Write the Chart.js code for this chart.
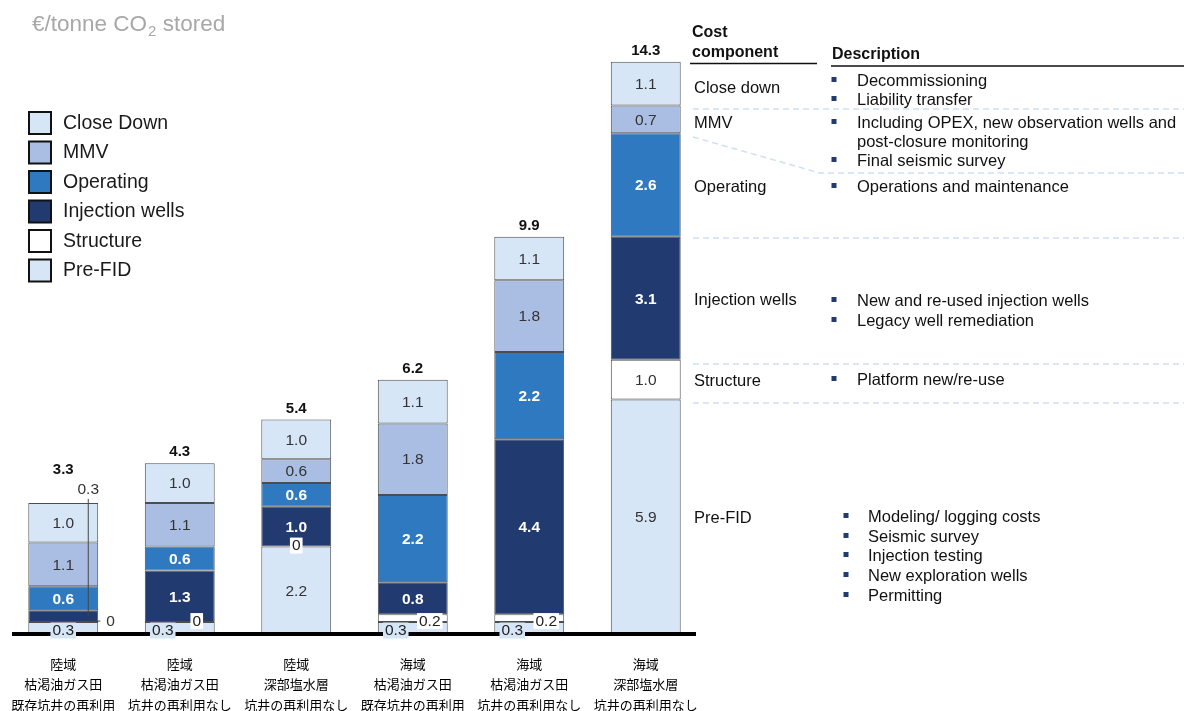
<!DOCTYPE html>
<html>
<head>
<meta charset="utf-8">
<script src="https://cdn.jsdelivr.net/npm/chart.js@4.4.1/dist/chart.umd.min.js"></script>
<style>
  html, body { margin: 0; padding: 0; background: #fff; }
  #wrap { position: relative; width: 1184px; height: 711px; }
</style>
</head>
<body>
<div id="wrap"><canvas id="c" width="1184" height="711"></canvas></div>
<script>
// Storage scenarios (region / reservoir / well re-use)
const categories = [
  ['陸域', '枯渇油ガス田', '既存坑井の再利用'],
  ['陸域', '枯渇油ガス田', '坑井の再利用なし'],
  ['陸域', '深部塩水層', '坑井の再利用なし'],
  ['海域', '枯渇油ガス田', '既存坑井の再利用'],
  ['海域', '枯渇油ガス田', '坑井の再利用なし'],
  ['海域', '深部塩水層', '坑井の再利用なし']
];

// Cost components, €/tonne CO2 stored
const preFID         = [0.3, 0.3, 2.2, 0.3, 0.3, 5.9];
const structure      = [0,   0,   0,   0.2, 0.2, 1.0];
const injectionWells = [0.3, 1.3, 1.0, 0.8, 4.4, 3.1];
const operating      = [0.6, 0.6, 0.6, 2.2, 2.2, 2.6];
const mmv            = [1.1, 1.1, 0.6, 1.8, 1.8, 0.7];
const closeDown      = [1.0, 1.0, 1.0, 1.1, 1.1, 1.1];

// Stated totals per scenario
const totals = [3.3, 4.3, 5.4, 6.2, 9.9, 14.3];

const seriesNames  = ['Pre-FID', 'Structure', 'Injection wells', 'Operating', 'MMV', 'Close Down'];
const seriesColors = ['#d6e6f7', '#ffffff', '#213b70', '#2e79c0', '#aabde3', '#d6e6f7'];
const whiteLabel   = [false, false, true, true, false, false];

// Cost component descriptions
const componentNames = ['Close down', 'MMV', 'Operating', 'Injection wells', 'Structure', 'Pre-FID'];
const componentDescriptions = [
  [['Decommissioning'], ['Liability transfer']],
  [['Including OPEX, new observation wells and', 'post-closure monitoring'], ['Final seismic survey']],
  [['Operations and maintenance']],
  [['New and re-used injection wells'], ['Legacy well remediation']],
  [['Platform new/re-use']],
  [['Modeling/ logging costs'], ['Seismic survey'], ['Injection testing'], ['New exploration wells'], ['Permitting']]
];

const SANS = "'Liberation Sans', Arial, Helvetica, sans-serif";
const CJK = "'Noto Sans CJK JP', 'Noto Sans CJK SC', sans-serif";

const fmt = v => (v === 0 ? '0' : v.toFixed(1));

function text(ctx, s, x, y, font, color, align = 'center') {
  ctx.font = font;
  ctx.fillStyle = color;
  ctx.textAlign = align;
  ctx.textBaseline = 'middle';
  ctx.fillText(s, x, y);
}

function boxedLabel(ctx, s, cx, cy, fill) {
  ctx.font = `15.5px ${SANS}`;
  const w = ctx.measureText(s).width + 4;
  ctx.fillStyle = fill;
  ctx.fillRect(cx - w / 2, cy - 8, w, 16);
  text(ctx, s, cx, cy + 0.5, `15.5px ${SANS}`, '#222');
}

function hline(ctx, x1, x2, y) {
  ctx.beginPath(); ctx.moveTo(x1, y); ctx.lineTo(x2, y); ctx.stroke();
}

// Segment values, small-slice callouts, totals and baseline
const barLabels = {
  id: 'barLabels',
  afterDatasetsDraw(chart) {
    const ctx = chart.ctx;
    const area = chart.chartArea;
    const metas = chart.data.datasets.map((d, i) => chart.getDatasetMeta(i));
    const zeroY = chart.scales.y.getPixelForValue(0);

    ctx.save();
    // heavy baseline
    ctx.strokeStyle = '#000';
    ctx.lineWidth = 4;
    hline(ctx, area.left + 7, area.right - 8, zeroY);

    // labels for segments large enough to hold them
    metas.forEach((meta, di) => {
      const data = chart.data.datasets[di].data;
      meta.data.forEach((el, j) => {
        const v = data[j];
        if (v < 0.5) return;
        const cy = (el.y + el.base) / 2;
        if (whiteLabel[di]) text(ctx, fmt(v), el.x, cy + 1, `bold 15.5px ${SANS}`, '#fff');
        else text(ctx, fmt(v), el.x, cy + 1, `15.5px ${SANS}`, '#333');
      });
    });

    const topOf = j => metas[metas.length - 1].data[j].y;

    categories.forEach((c, j) => {
      const pre = metas[0].data[j];
      const str = metas[1].data[j];
      const inj = metas[2].data[j];
      const injOutside = injectionWells[j] < 0.5;

      // thin injection-well slice: label above the bar with a leader line
      if (injOutside) {
        const lx = inj.x + 25;
        const ly = topOf(j) - 13;
        ctx.strokeStyle = '#444';
        ctx.lineWidth = 1;
        ctx.beginPath();
        ctx.moveTo(lx, ly + 9);
        ctx.lineTo(lx, (inj.y + inj.base) / 2);
        ctx.stroke();
        text(ctx, fmt(injectionWells[j]), lx, ly, `15.5px ${SANS}`, '#333');
      }

      // thin structure slice
      if (structure[j] < 0.5) {
        const sy = str.base - 1;
        if (injOutside) {
          ctx.strokeStyle = '#444';
          ctx.lineWidth = 1;
          hline(ctx, str.x + 26, str.x + 37, sy);
          text(ctx, fmt(structure[j]), str.x + 43, sy + 0.5, `15.5px ${SANS}`, '#333', 'left');
        } else {
          const sx = preFID[j] < 0.5 ? str.x + 17 : str.x;
          boxedLabel(ctx, fmt(structure[j]), sx, sy, '#ffffff');
        }
      }

      // thin pre-FID slice: boxed label on the baseline
      if (preFID[j] < 0.5) {
        const px = injOutside ? pre.x : pre.x - 17;
        boxedLabel(ctx, fmt(preFID[j]), px, pre.base - 3.5, seriesColors[0]);
      }

      // totals
      const ty = topOf(j) - (injOutside ? 33 : 11);
      text(ctx, fmt(totals[j]), pre.x, ty, `bold 15px ${SANS}`, '#111');
    });
    ctx.restore();
  }
};

// Unit title, legend and component table
const sidePanels = {
  id: 'sidePanels',
  afterDraw(chart) {
    const ctx = chart.ctx;
    ctx.save();

    // unit title with subscript
    ctx.textBaseline = 'alphabetic';
    ctx.textAlign = 'left';
    ctx.fillStyle = '#a8a8a8';
    ctx.font = `22.5px ${SANS}`;
    let x = 32;
    ctx.fillText('€/tonne CO', x, 31);
    x += ctx.measureText('€/tonne CO').width + 1;
    ctx.font = `15px ${SANS}`;
    ctx.fillText('2', x, 36);
    x += ctx.measureText('2').width;
    ctx.font = `22.5px ${SANS}`;
    ctx.fillText(' stored', x, 31);

    // legend, top component first
    const n = seriesNames.length;
    for (let k = 0; k < n; k++) {
      const di = n - 1 - k;
      const by = 112 + k * 29.5;
      ctx.fillStyle = seriesColors[di];
      ctx.fillRect(29, by, 22, 22);
      ctx.strokeStyle = '#111';
      ctx.lineWidth = 2;
      ctx.strokeRect(29, by, 22, 22);
      text(ctx, seriesNames[di], 63, by + 11.5, `19.5px ${SANS}`, '#1a1a1a', 'left');
    }

    // table headers
    const hFont = `bold 16px ${SANS}`;
    text(ctx, 'Cost', 692, 33, hFont, '#111', 'left');
    text(ctx, 'component', 692, 53, hFont, '#111', 'left');
    text(ctx, 'Description', 832, 55, hFont, '#111', 'left');
    ctx.strokeStyle = '#111';
    ctx.lineWidth = 1.5;
    hline(ctx, 690, 817, 63.5);
    hline(ctx, 831, 1184, 66);

    // separators
    ctx.strokeStyle = '#cfe0f3';
    ctx.lineWidth = 1.5;
    ctx.setLineDash([6, 4]);
    hline(ctx, 693, 1184, 109);
    ctx.beginPath();
    ctx.moveTo(693, 137); ctx.lineTo(820, 173); ctx.lineTo(1184, 173);
    ctx.stroke();
    hline(ctx, 693, 1184, 238);
    hline(ctx, 693, 1184, 364);
    hline(ctx, 693, 1184, 403);
    ctx.setLineDash([]);

    // rows
    const rowY = [88, 123, 187, 300, 381, 518];
    const lineY = [[81, 100], [123, 161], [187], [301, 321], [380], [517, 537, 556, 576, 596]];
    const bodyFont = `16.5px ${SANS}`;
    componentNames.forEach((name, r) => {
      text(ctx, name, 694, rowY[r], bodyFont, '#111', 'left');
      const last = r === componentNames.length - 1;
      const bx = last ? 846 : 834;
      const tx = last ? 868 : 857;
      componentDescriptions[r].forEach((item, b) => {
        const y0 = lineY[r][b];
        ctx.fillStyle = '#213b70';
        ctx.fillRect(bx - 2.5, y0 - 4, 5, 5);
        item.forEach((ln, li) => {
          text(ctx, ln, tx, y0 + li * 19.5, bodyFont, '#111', 'left');
        });
      });
    });

    ctx.restore();
  }
};

const datasetsSrc = [preFID, structure, injectionWells, operating, mmv, closeDown];

new Chart(document.getElementById('c'), {
  type: 'bar',
  data: {
    labels: categories,
    datasets: datasetsSrc.map((vals, i) => ({
      label: seriesNames[i],
      data: vals,
      backgroundColor: seriesColors[i],
      borderColor: '#4d4d4d',
      borderWidth: 1,
      borderSkipped: false,
      barPercentage: 0.6,
      categoryPercentage: 1.0
    }))
  },
  options: {
    responsive: false,
    animation: false,
    devicePixelRatio: 1,
    layout: { padding: { left: 5, right: 480, top: 38, bottom: 0 } },
    plugins: {
      legend: { display: false },
      tooltip: { enabled: false },
      title: { display: false }
    },
    scales: {
      x: {
        stacked: true,
        grid: { display: false, drawTicks: false },
        border: { display: false },
        ticks: {
          autoSkip: false,
          maxRotation: 0,
          minRotation: 0,
          padding: 19.5,
          color: '#000',
          font: { family: CJK, size: 13, lineHeight: '20.5px' }
        },
        afterFit(scale) {
          scale.height = 77;
          scale.paddingLeft = 0;
          scale.paddingRight = 0;
        }
      },
      y: {
        stacked: true,
        display: false,
        min: 0,
        max: 15
      }
    }
  },
  plugins: [barLabels, sidePanels]
});
</script>
</body>
</html>
